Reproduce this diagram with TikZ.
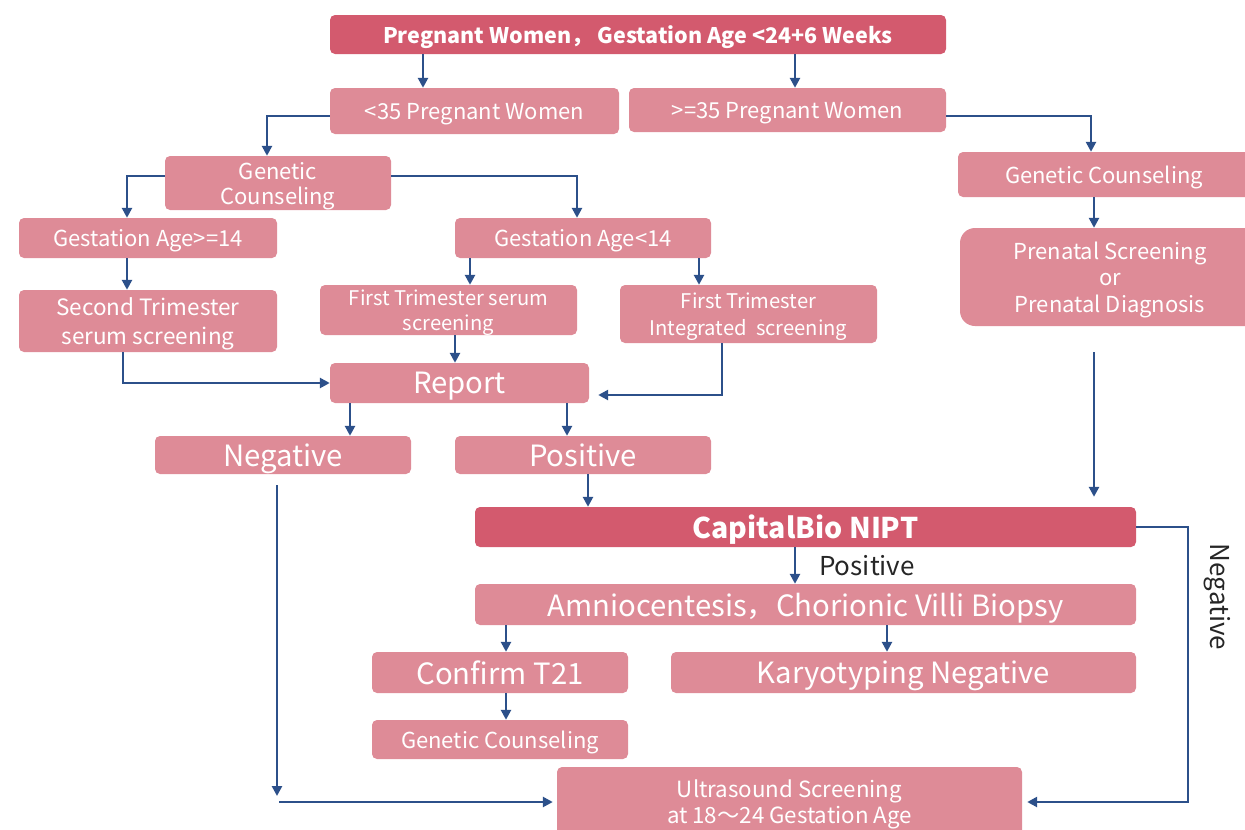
\documentclass[tikz,border=0pt]{standalone}
\usepackage{fontspec}
\setmainfont{Noto Sans CJK SC}
\usetikzlibrary{arrows.meta,calc}
\definecolor{dred}{RGB}{211,90,110}
\definecolor{lpink}{RGB}{222,139,151}
\definecolor{ablue}{RGB}{44,80,138}
\newcommand\fszA{\fontsize{22}{26}\selectfont}
\newcommand\fszB{\fontsize{29.3}{34}\selectfont}
\newcommand\fszC{\fontsize{26}{30}\selectfont}
\begin{document}
\begin{tikzpicture}[x=1pt,y=-1pt,
  box/.style={fill=lpink, rounded corners=5pt, text=white, align=center, inner sep=0pt, text depth=0pt, font=\fszA},
  dbox/.style={box, fill=dred},
  arr/.style={draw=ablue, line width=2.8pt, -{Triangle[length=10pt,width=10pt]}},
  lbl/.style={inner sep=0pt, text=black!85, font=\fszC}]
\useasboundingbox (0,0) rectangle (1245,830);
\node[dbox, minimum width=616, minimum height=39, font=\fontsize{21.5}{26}\selectfont\bfseries] (top) at (638,34.5) {Pregnant Women，\ Gestation Age <24+6 Weeks};
\node[box, minimum width=289, minimum height=46] (lt35) at (474.5,111) {<35 Pregnant Women};
\node[box, minimum width=317, minimum height=44] (ge35) at (787.5,110) {>=35 Pregnant Women};
\node[box, minimum width=226, minimum height=54, font=\fontsize{22}{25}\selectfont] (gc1) at (278,183) {Genetic\\Counseling};
\node[box, minimum width=258, minimum height=40] (ga14) at (148,238) {Gestation Age>=14};
\node[box, minimum width=256, minimum height=40] (galt14) at (583,238) {Gestation Age<14};
\node[box, minimum width=292, minimum height=45] (gcR) at (1104,174.5) {Genetic Counseling};
\node[box, rounded corners=15pt, minimum width=300, minimum height=98, font=\fontsize{22}{26.5}\selectfont] (prenatal) at (1110,277) {Prenatal Screening\\or\\Prenatal Diagnosis};
\node[box, minimum width=258, minimum height=62, font=\fontsize{22.5}{29}\selectfont] (second) at (148,321) {Second Trimester\\serum screening};
\node[box, minimum width=257, minimum height=50, font=\fontsize{20.2}{25}\selectfont] (firstserum) at (448.5,310) {First Trimester serum\\screening};
\node[box, minimum width=257, minimum height=58, font=\fontsize{20.2}{27}\selectfont] (firstint) at (748.5,314) {First Trimester\\Integrated\ \ screening};
\node[box, minimum width=259, minimum height=40, font=\fszB] (report) at (459.5,383) {Report};
\node[box, minimum width=256, minimum height=38, font=\fszB] (negative) at (283,455) {Negative};
\node[box, minimum width=256, minimum height=38, font=\fszB] (positive) at (583,455) {Positive};
\node[dbox, minimum width=661, minimum height=40, font=\fontsize{28.5}{34}\selectfont\bfseries] (nipt) at (805.5,527) {CapitalBio NIPT};
\node[box, minimum width=661, minimum height=41, font=\fszB] (amnio) at (805.5,604.5) {Amniocentesis，Chorionic Villi Biopsy};
\node[box, minimum width=256, minimum height=41, font=\fszB] (t21) at (500,672.5) {Confirm T21};
\node[box, minimum width=465, minimum height=41, font=\fszB] (karyo) at (903.5,672.5) {Karyotyping Negative};
\node[box, minimum width=256, minimum height=39] (gc3) at (500,739.5) {Genetic Counseling};
\node[box, minimum width=465, minimum height=70, font=\fontsize{22.3}{26}\selectfont] (ultra) at (789.5,802) {Ultrasound Screening\\at 18～24 Gestation Age};
\node[lbl, anchor=west] (poslbl) at (819,566) {Positive};
\node[lbl, rotate=-90] (neglbl) at (1217,597) {Negative};
\coordinate (nb) at (277,796);
\coordinate (ns) at (279,802);
\draw[arr] (top.south -| 423,0) -- (lt35.north -| 423,0);
\draw[arr] (top.south -| 795,0) -- (ge35.north -| 795,0);
\draw[arr] (lt35.west |- 0,116) -| (gc1.north -| 267,0);
\draw[arr] (ge35.east |- 0,116) -| (gcR.north -| 1091,0);
\draw[arr] (gc1.west |- 0,176) -| (ga14.north -| 127,0);
\draw[arr] (gc1.east |- 0,176) -| (galt14.north -| 577,0);
\draw[arr] (ga14.south -| 127,0) -- (second.north -| 127,0);
\draw[arr] (galt14.south -| 470,0) -- (firstserum.north -| 470,0);
\draw[arr] (galt14.south -| 699,0) -- (firstint.north -| 699,0);
\draw[arr] (gcR.south -| 1094,0) -- (prenatal.north -| 1094,0);
\draw[arr] (second.south -| 123,0) |- (report.west);
\draw[arr] (firstserum.south -| 455,0) -- (report.north -| 455,0);
\draw[arr] (firstint.south -| 722,0) |- ([xshift=9pt]report.east |- 0,395);
\draw[arr] (report.south -| 350,0) -- (negative.north -| 350,0);
\draw[arr] (report.south -| 567,0) -- (positive.north -| 567,0);
\draw[arr] (positive.south -| 588,0) -- (nipt.north -| 588,0);
\draw[arr] ($(prenatal.south -| 1094,0)+(0,26)$) -- ($(nipt.north -| 1094,0)+(0,-10)$);
\draw[arr] (nipt.south -| 795,0) -- (amnio.north -| 795,0);
\draw[arr] (nipt.east) -- (nipt.east -| 1188,0) |- ([xshift=5pt]ultra.east);
\draw[arr] (amnio.south -| 506,0) -- (t21.north -| 506,0);
\draw[arr] (amnio.south -| 887,0) -- (karyo.north -| 887,0);
\draw[arr] (t21.south -| 506,0) -- (gc3.north -| 506,0);
\draw[arr] ($(negative.south -| 277,0)+(0,11)$) -- (nb);
\draw[arr] (ns) -- ([xshift=-4pt]ultra.west);
\end{tikzpicture}
\end{document}
